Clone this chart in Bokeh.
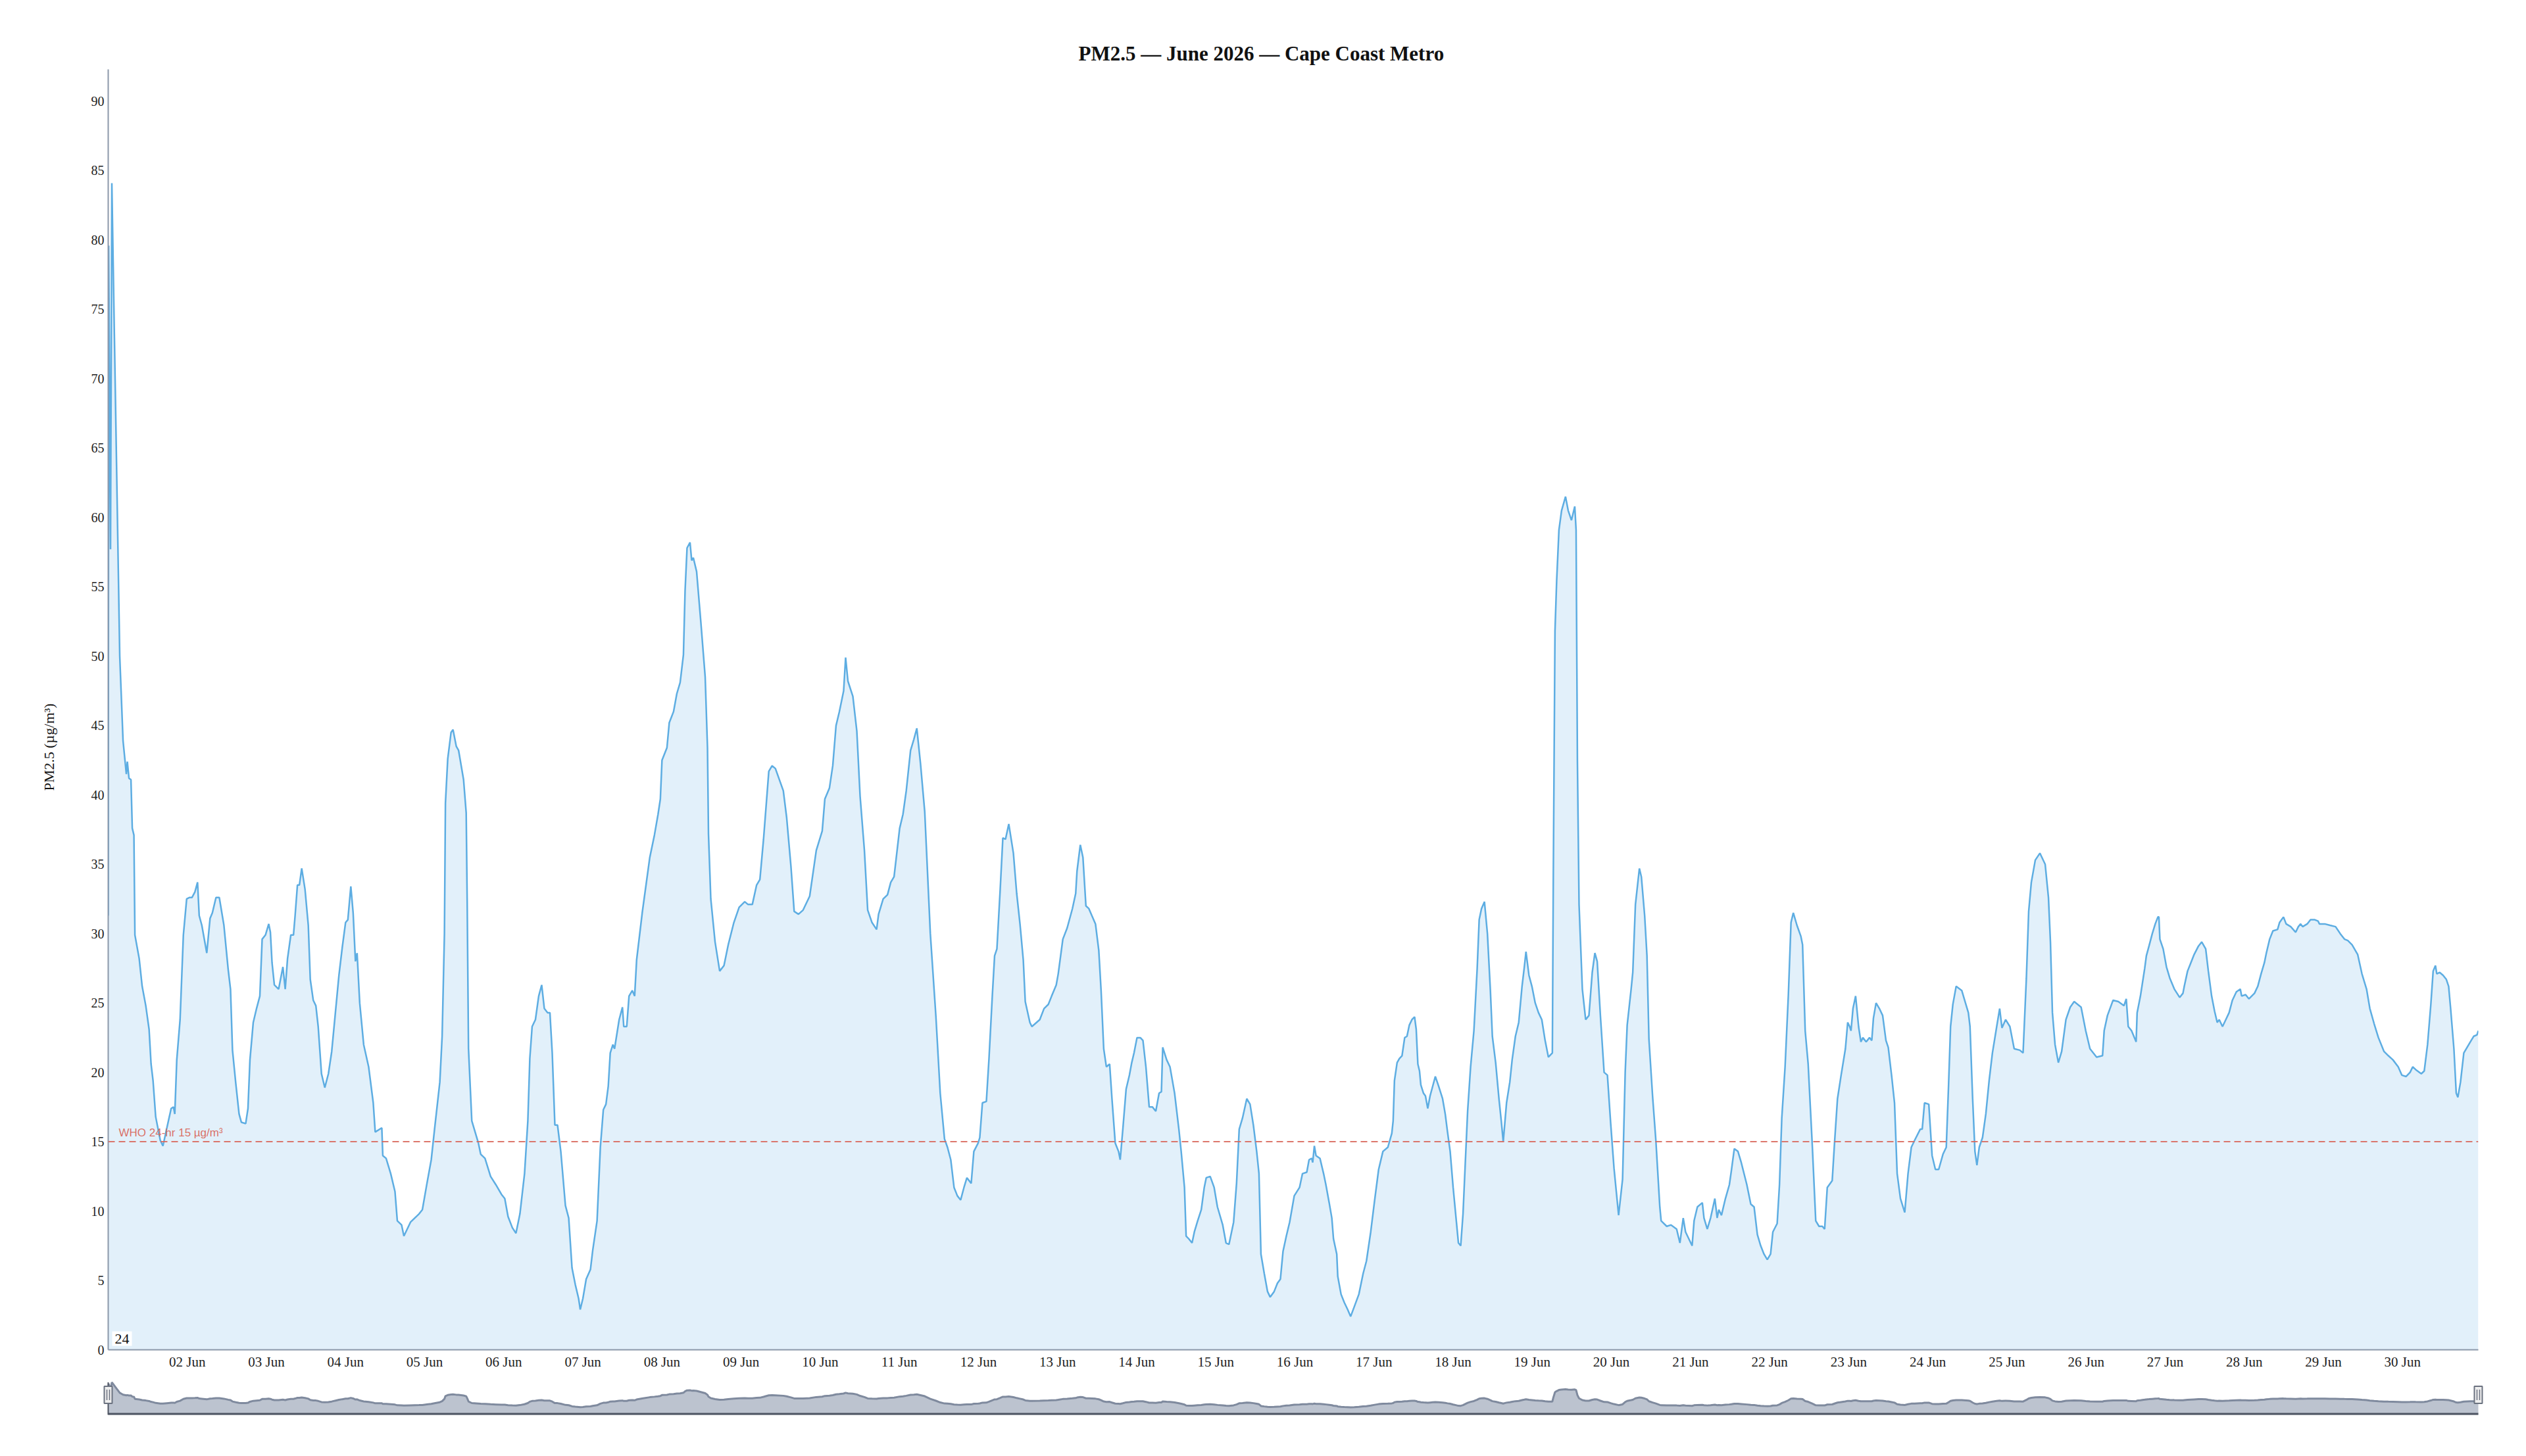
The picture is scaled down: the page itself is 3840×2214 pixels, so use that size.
import numpy as np
from datetime import datetime, timezone
from bokeh.plotting import figure
from bokeh.models import Range1d, FixedTicker, DatetimeTickFormatter, Span, Label, Title
from bokeh.layouts import column
from bokeh.embed import file_html
from bokeh.resources import INLINE

TITLE = "PM2.5 \u2014 June 2026 \u2014 Cape Coast Metro"
Y_LABEL = "PM2.5 (\u00b5g/m\u00b3)"
WHO_LEVEL = 15
WHO_TEXT = "WHO 24-hr 15 \u00b5g/m\u00b3"
CORNER_TEXT = "24"
Y_TICKS = list(range(0, 95, 5))
TICK_DAYS = list(range(2, 31))
LAST_HOUR = 719

# hours since 2026-06-01 00:00 and PM2.5 readings
hours = [
    0.0, 0.15, 0.7, 1.1, 3.5, 4.5, 5.5, 5.8, 6.3, 6.9, 7.3, 7.8, 8.1, 9.4, 10.3, 11.4, 12.4, 13.0,
    13.6, 14.4, 15.8, 16.6, 17.8, 19.1, 19.8, 20.2, 20.8, 21.8, 22.8, 23.8,
    24.6, 25.4, 26.3, 27.1, 27.6, 28.4, 29.9, 30.9, 31.6, 32.7, 33.7, 35.1, 36.4, 37.1, 37.7,
    38.7, 39.7, 40.4, 41.7, 42.4, 43.0, 44.0, 45.0, 46.0, 46.7, 47.7,
    48.7, 49.2, 49.7, 50.4, 51.7, 53.0, 53.7, 54.4, 55.4, 56.2, 56.7, 57.4, 58.0, 58.7, 59.7,
    60.7, 61.3, 62.2, 63.0, 63.7, 64.7, 65.7, 66.8, 67.8, 69.0, 70.0, 71.0,
    72.0, 72.7, 73.6, 74.3, 75.0, 75.5, 76.3, 77.5, 79.0, 80.4, 81.0, 83.0, 83.3, 84.3, 85.7,
    87.0, 87.7, 89.0, 89.7, 91.7, 94.3, 95.3,
    96.7, 98.0, 99.0, 100.6, 101.3, 102.0, 102.3, 103.0, 104.0, 104.6, 105.6, 106.3, 107.8,
    108.6, 108.9, 109.3, 110.3, 112.3, 113.0, 114.3, 116.0, 117.6, 119.3,
    120.3, 121.3, 122.6, 123.7, 124.9, 126.3, 127.3, 127.9, 128.6, 129.6, 130.6, 131.5, 132.3,
    133.3, 134.0, 134.7, 135.5, 136.3, 137.3, 138.7, 139.7, 140.7, 141.7, 142.7, 143.2,
    144.0, 145.0, 146.3, 147.0, 148.3, 149.3, 150.2, 151.0, 151.7, 152.3, 153.1, 153.6, 155.0,
    156.0, 156.4, 157.3, 158.0, 159.0, 159.7, 160.3, 162.0, 164.3, 165.7,
    166.8, 167.5, 168.0, 169.5, 170.2, 171.5, 172.5, 173.5, 174.5, 175.0, 175.6, 176.5, 177.0,
    177.5, 178.5, 179.8, 181.1, 181.8, 182.1, 182.8, 184.1, 185.5, 186.8, 188.1, 189.8, 191.4,
    193.1, 194.1, 195.4, 196.7, 197.7, 198.8, 200.4, 201.4, 202.4, 204.8, 205.8, 207.1, 208.1,
    209.4, 210.8, 212.8, 214.8, 216.6, 217.4, 218.8, 219.8, 220.8, 221.8, 223.1, 223.7, 224.4,
    225.9, 227.1, 228.1, 229.4, 230.4, 231.7, 233.1, 233.7, 235.1, 236.4, 237.4, 238.4, 240.1,
    241.1, 242.1, 243.4, 244.4, 245.3, 246.4, 247.7, 249.4, 251.1, 252.4, 253.7,
    254.6, 255.6, 256.6, 257.6, 258.6, 259.6, 260.5, 261.8, 262.6, 263.9, 264.4, 265.2, 266.4,
    267.2, 268.2, 268.9, 269.6, 270.6, 271.4, 272.2, 273.2, 274.6, 275.6, 276.6, 277.6, 278.2,
    279.6, 280.2, 282.6, 283.9, 285.2, 286.2, 287.6, 288.2, 289.6, 290.9, 292.5, 293.5, 293.9,
    294.9, 295.7, 296.6, 297.5, 298.4, 299.5, 300.5, 301.2, 302.0, 302.8, 303.8, 304.5, 305.5,
    306.5, 307.0, 307.8, 308.8, 309.8, 310.5, 311.2, 312.1, 313.1, 313.9, 314.8, 315.8, 316.8,
    317.8, 318.8, 319.5, 319.9, 321.1, 322.1, 323.5, 324.8, 325.5, 326.5, 327.0, 327.8, 328.8,
    329.5, 330.5, 331.6, 332.5, 333.1, 334.3, 335.5, 336.5, 338.1, 339.1, 340.0, 341.4, 342.3,
    343.1, 344.1, 345.4,
    346.4, 347.4, 348.4, 349.1, 349.7, 350.7, 351.7, 352.5, 353.7, 354.7, 355.6, 356.4, 357.4,
    358.4, 359.8, 361.4, 362.3, 363.6, 364.3, 365.1, 365.4, 365.9, 366.4, 367.6, 368.7, 369.4,
    370.4, 371.2, 371.7, 372.7, 373.0, 374.0, 375.0, 376.0, 376.9, 378.0, 379.4, 380.7, 381.7,
    383.0, 384.2, 385.4, 386.7, 388.2, 389.4, 389.8, 390.2, 391.0, 391.7, 392.5, 393.3, 394.0,
    394.7, 395.5, 396.3, 396.8, 397.3, 397.8, 398.2, 399.0, 399.6, 400.3, 401.0, 401.8, 402.6,
    403.6, 404.8, 405.6, 406.3, 407.1, 408.0, 409.0, 409.6, 410.3, 411.0, 411.6, 412.4, 413.3,
    414.3, 415.3, 415.9, 416.6, 417.5, 418.4, 419.3, 419.9, 420.9, 421.9, 422.6, 423.2, 424.2,
    425.2, 425.9, 426.9, 427.9, 428.9, 429.6, 430.1, 431.0, 431.9, 432.9, 433.9, 434.9, 435.9,
    436.9, 438.1,
    438.4, 438.9, 439.4, 440.1, 440.9, 442.1, 442.9, 443.9, 444.9, 445.3, 445.7, 446.2, 447.2,
    448.2, 449.2, 450.2, 451.0, 451.7, 452.7, 453.8, 454.8, 455.8, 456.8, 458.2, 459.4, 460.2,
    460.8, 462.0, 462.5, 463.3, 464.5, 465.1, 466.1, 466.8, 467.4, 468.5, 469.5, 470.7, 471.1,
    472.8, 474.1, 475.8, 476.8, 477.8, 478.5, 480.5, 481.1, 482.1, 483.6, 484.1, 485.1, 486.1,
    487.4, 488.1, 488.6, 489.4, 490.6, 491.8, 492.4, 493.3, 494.4, 495.4, 497.1, 498.3, 499.3,
    500.3, 501.3, 502.3, 503.3, 504.3, 505.0, 506.3, 507.0, 507.7, 508.7, 509.7, 510.5, 511.2,
    512.3, 513.5, 514.0, 514.8, 515.7, 517.0, 518.0, 519.0, 520.0, 520.7, 521.5, 523.0, 523.7,
    524.6, 525.7,
    527.0, 527.7, 528.3, 528.7, 529.3, 530.1, 531.0, 531.7, 532.3, 533.3, 534.3, 535.0, 535.5,
    536.3, 537.3, 538.3, 539.3, 540.0, 541.0, 541.9, 542.7, 543.7, 545.0, 546.0, 547.0, 548.0,
    549.7, 550.3, 551.0, 552.3, 553.3, 554.3, 555.3, 556.6, 557.6, 558.3, 558.9, 559.6, 560.6,
    562.3, 564.3, 564.8, 565.6, 566.3, 566.9, 567.6, 568.6, 569.6, 570.6, 571.6, 572.9, 573.8,
    574.5, 575.6, 576.9, 578.2, 579.9, 580.9, 581.9, 582.6, 583.4, 584.6, 586.0, 587.6, 588.6,
    589.2, 589.8, 590.6, 591.6, 592.6, 593.9, 595.2, 596.4, 598.5, 599.9, 601.2, 603.2, 605.0,
    605.5, 606.5, 608.2, 609.8, 611.5, 612.2, 612.8, 613.8, 615.2, 615.5, 616.5,
    617.8, 618.3, 619.1, 620.1, 621.0, 621.8, 622.1, 622.4, 623.4, 624.4, 625.4, 626.8, 628.4,
    629.4, 629.8, 630.8, 631.8, 632.8, 634.1, 635.1, 636.3, 637.1, 638.1, 639.0, 639.8, 640.4,
    641.4, 642.4, 643.4, 644.4, 645.6, 646.8, 647.2, 648.4, 649.4, 651.1, 652.1, 653.1, 654.1,
    654.7, 655.7, 656.7, 658.1, 658.7, 659.9, 660.7, 662.1, 663.6, 664.4, 665.1, 665.7, 667.1,
    668.1, 669.4, 670.4, 670.8, 672.4, 674.0, 675.7, 677.1, 678.4, 679.4, 680.7, 682.4, 683.7,
    685.1, 686.1, 687.4, 688.7, 690.4, 691.7, 693.1, 694.7, 695.8, 697.1, 698.3, 699.1, 700.0,
    701.7, 702.6, 703.6, 704.6, 705.3, 706.0, 706.4, 707.3, 708.3, 709.3, 710.0, 710.6, 711.6,
    712.3, 712.8, 713.6, 714.6, 715.6, 716.6, 717.6, 718.6, 719.0,
]
pm25 = [
    31.3, 79.6, 57.7, 84.1, 50.0, 43.9, 41.5, 42.4, 41.2, 41.1, 37.6, 37.1, 29.9, 28.2, 26.2, 24.8, 23.1, 20.6,
    19.4, 16.8, 15.1, 14.7, 16.0, 17.4, 17.5, 17.0, 20.9, 23.8, 29.9, 32.5,
    32.6, 32.6, 33.0, 33.7, 31.3, 30.6, 28.6, 31.1, 31.5, 32.6, 32.6, 30.6, 27.4, 26.0, 21.6,
    19.2, 17.0, 16.4, 16.3, 17.4, 20.9, 23.6, 24.6, 25.5, 29.6, 29.9,
    30.7, 30.1, 27.9, 26.3, 26.0, 27.6, 26.0, 28.2, 29.9, 29.9, 31.3, 33.5, 33.5, 34.7, 33.2,
    30.6, 26.7, 25.2, 24.8, 23.3, 19.9, 18.9, 19.9, 21.5, 24.5, 27.0, 29.0,
    30.8, 31.0, 33.4, 31.5, 28.0, 28.6, 25.0, 22.0, 20.4, 17.8, 15.7, 16.0, 14.0, 13.8, 12.7,
    11.4, 9.3, 9.0, 8.2, 9.2, 9.8, 10.1,
    12.0, 13.7, 15.9, 19.3, 22.6, 30.0, 39.4, 42.6, 44.5, 44.7, 43.5, 43.2, 41.1,
    38.7, 32.3, 21.7, 16.5, 14.9, 14.1, 13.8, 12.5, 11.9, 11.2,
    10.9, 9.6, 8.8, 8.4, 9.8, 12.7, 16.5, 21.0, 23.3, 23.8, 25.5, 26.3, 24.6,
    24.3, 24.3, 21.4, 16.2, 16.2, 14.3, 10.4, 9.5, 5.9, 4.7, 3.7, 2.9,
    3.7, 5.1, 5.8, 7.2, 9.3, 14.6, 17.3, 17.7, 19.0, 21.4, 22.0, 21.7, 23.8,
    24.7, 23.3, 23.3, 25.5, 25.9, 25.5, 28.1, 31.5, 35.5, 37.1,
    38.6, 39.7, 42.5, 43.4, 45.2, 46.0, 47.3, 48.1, 50.1, 54.7, 57.8, 58.2, 56.9,
    57.1, 56.1, 52.4, 48.5, 43.4, 37.2, 32.5, 29.4, 27.3, 27.7, 29.2, 30.8, 31.9,
    32.3, 32.1, 32.1, 33.5, 33.9, 36.8, 41.7, 42.1, 41.9, 40.3, 38.4, 34.9, 31.6,
    31.4, 31.7, 32.7, 36.0, 37.4, 39.7, 40.5, 42.1, 45.0, 46.0, 47.5, 49.9, 48.2,
    47.1, 44.6, 39.9, 36.0, 31.7, 30.8, 30.3, 31.4, 32.5, 32.8, 33.7, 34.1, 37.6,
    38.6, 40.3, 43.2, 44.0, 44.8, 42.3, 38.8, 30.0, 24.0, 18.5, 15.2,
    14.6, 13.7, 11.7, 11.1, 10.8, 11.7, 12.4, 12.0, 14.3, 14.9, 15.3, 17.8, 17.9,
    21.0, 25.5, 28.4, 28.9, 33.2, 36.9, 36.8, 37.9, 35.8, 32.9, 30.7, 28.1, 25.1,
    23.6, 23.3, 23.8, 24.6, 24.9, 25.5, 26.3, 27.1, 29.6, 30.4, 31.8, 32.9, 34.5,
    36.4, 35.5, 32.0, 31.8, 31.3, 30.7, 28.8, 25.9, 21.7, 20.4, 20.6, 18.1, 14.9,
    14.3, 13.7, 15.9, 18.8, 19.8, 20.7, 21.4, 22.5, 22.5, 22.3, 20.4, 17.5, 17.5,
    17.2, 18.5, 18.6, 21.8, 20.9, 20.4, 18.5, 15.9, 14.3, 11.7, 8.2, 8.0, 7.7,
    8.5, 9.3, 10.1, 11.7, 12.4, 12.5, 11.7, 10.3, 9.0, 7.7, 7.6, 9.2, 12.0,
    15.9, 16.7, 18.1,
    17.7, 16.2, 14.3, 12.7, 6.9, 5.5, 4.2, 3.8, 4.2, 4.8, 5.1, 7.1, 8.2,
    9.2, 11.1, 11.7, 12.7, 12.8, 13.7, 13.8, 13.5, 14.7, 14.0, 13.8, 12.7, 11.9,
    10.6, 9.5, 8.0, 6.9, 5.3, 4.0, 3.4, 2.9, 2.4, 3.1, 4.0, 5.5, 6.4,
    8.5, 10.8, 13.0, 14.3, 14.6, 15.6, 16.5, 19.4, 20.7, 21.0, 21.2, 22.5, 22.6,
    23.4, 23.8, 24.0, 23.1, 20.6, 20.1, 19.1, 18.5, 18.3, 17.4, 18.3, 19.0, 19.7,
    19.0, 18.1, 17.0, 15.7, 14.3, 11.7, 9.2, 7.7, 7.5, 9.8, 13.0, 17.2, 20.4,
    23.0, 27.5, 31.0, 31.8, 32.3, 30.0, 25.9, 22.6, 20.7, 18.1, 16.5, 15.0, 17.8,
    19.3, 20.9, 22.6, 23.6, 26.2, 27.6, 28.7, 27.0, 26.2, 25.0, 24.3, 23.8, 22.3,
    21.1, 21.4,
    34.5, 51.8, 55.4, 59.1, 60.5, 61.5, 60.5, 59.8, 60.8, 59.1, 42.5, 32.1, 26.0,
    23.8, 24.1, 27.2, 28.6, 28.0, 24.0, 20.0, 19.8, 16.3, 13.1, 9.7, 12.3, 20.0,
    23.4, 26.0, 27.2, 32.1, 34.7, 34.1, 31.3, 28.4, 22.4, 18.3, 15.1, 10.3, 9.3,
    8.9, 9.0, 8.7, 7.7, 9.5, 8.5, 7.5, 9.3, 10.3, 10.6, 9.5, 8.7, 9.5,
    10.9, 9.5, 10.1, 9.7, 10.9, 11.9, 12.9, 14.5, 14.3, 13.5, 11.9, 10.5, 10.3,
    8.3, 7.5, 6.9, 6.5, 6.9, 8.5, 9.1, 11.9, 16.7, 20.4, 25.6, 30.8, 31.5,
    30.6, 29.8, 29.2, 23.0, 20.6, 14.5, 9.3, 8.9, 8.9, 8.7, 11.7, 12.2, 14.9,
    18.1, 19.8,
    21.7, 23.6, 23.3, 23.0, 24.6, 25.5, 23.3, 22.2, 22.5, 22.2, 22.5, 22.3, 23.9,
    25.0, 24.6, 24.1, 22.3, 21.8, 19.8, 17.8, 12.7, 10.9, 9.9, 12.7, 14.6, 15.1,
    15.9, 15.9, 17.8, 17.7, 14.0, 13.0, 13.0, 14.1, 14.6, 19.1, 23.3, 24.9, 26.2,
    25.9, 24.3, 23.3, 18.1, 14.3, 13.3, 14.6, 15.3, 17.0, 19.4, 21.4, 23.3, 24.6,
    23.2, 23.8, 23.3, 21.7, 21.6, 21.4, 26.8, 31.6, 33.7, 35.3, 35.8, 35.0, 32.6,
    29.4, 24.3, 22.0, 20.7, 21.5, 23.8, 24.7, 25.1, 24.7, 23.0, 21.7, 21.1, 21.2,
    23.0, 24.1, 25.2, 25.1, 24.8, 25.3, 23.3, 23.0, 22.2, 24.3, 25.5,
    27.5, 28.4, 29.1, 30.0, 30.7, 31.2, 31.2, 29.6, 28.9, 27.6, 26.8, 26.0, 25.4,
    25.7, 26.2, 27.3, 27.9, 28.5, 29.1, 29.4, 28.9, 27.3, 25.5, 24.4, 23.6, 23.8,
    23.3, 23.8, 24.3, 25.2, 25.8, 26.0, 25.5, 25.6, 25.3, 25.7, 26.2, 27.1, 27.9,
    28.6, 29.6, 30.2, 30.3, 30.8, 31.2, 30.7, 30.5, 30.1, 30.5, 30.7, 30.5, 30.7,
    31.0, 31.0, 30.9, 30.7, 30.7, 30.6, 30.5, 30.0, 29.6, 29.5, 29.2, 28.5, 27.1,
    26.0, 24.6, 23.5, 22.5, 21.5, 21.2, 20.9, 20.4, 19.8, 19.7, 20.0, 20.4, 20.2,
    19.9, 20.1, 22.0, 24.9, 27.3, 27.7, 27.1, 27.2, 27.0, 26.7, 26.2, 24.6, 21.7,
    18.5, 18.2, 19.3, 21.4, 21.8, 22.2, 22.6, 22.7, 23.0,
]

HOUR_MS = 3600 * 1000
base_ms = datetime(2026, 6, 1, tzinfo=timezone.utc).timestamp() * 1000
x = base_ms + np.array(hours) * HOUR_MS
y = np.array(pm25)
x_start = base_ms
x_end = base_ms + LAST_HOUR * HOUR_MS

LINE_COLOR = "#5DADE2"
AXIS_COLOR = "#8c98aa"
WHO_COLOR = "#d9685c"
SERIF = "Liberation Serif"

W = 3824
FRAME_W = 3603
Y_TOP = 92.3
p = figure(width=W, height=2090, x_axis_type="datetime",
           x_range=Range1d(x_start, x_end), y_range=Range1d(0, Y_TOP),
           output_backend="svg", toolbar_location=None,
           min_border_left=164, min_border_right=57, min_border_top=105, min_border_bottom=38)
p.frame_align = False
p.outline_line_color = None
p.xgrid.visible = False
p.ygrid.visible = False
p.background_fill_color = "white"
p.border_fill_color = "white"

p.title.text = TITLE
p.title.text_font = SERIF
p.title.text_font_size = "31px"
p.title.text_font_style = "bold"
p.title.text_color = "#111111"
p.title.align = "left"
p.title.offset = 1475
p.title.standoff = 14

p.varea(x=x, y1=0, y2=y, fill_color=LINE_COLOR, fill_alpha=0.18)
p.line(x=x, y=y, line_color=LINE_COLOR, line_width=2.5)

p.add_layout(Span(location=WHO_LEVEL, dimension="width", line_color=WHO_COLOR,
                  line_alpha=0.9, line_dash="10 6", line_width=2))
p.add_layout(Label(x=x_start, y=WHO_LEVEL, x_offset=16, y_offset=4, text=WHO_TEXT,
                   text_font="Liberation Sans", text_font_size="17px",
                   text_color=WHO_COLOR, text_alpha=0.95))
p.add_layout(Label(x=x_start, y=0, x_offset=6, y_offset=6, text=CORNER_TEXT,
                   text_font=SERIF, text_font_size="22px", text_color="#111111",
                   background_fill_color="white", padding=4))

day_ticks = [base_ms + (d - 1) * 24 * HOUR_MS for d in TICK_DAYS]
p.xaxis.ticker = FixedTicker(ticks=day_ticks)
fmt = "%d %b"
p.xaxis.formatter = DatetimeTickFormatter(days=fmt, months=fmt, hours=fmt, hourmin=fmt,
                                          minutes=fmt, years=fmt)
p.yaxis.ticker = FixedTicker(ticks=Y_TICKS)

for ax in (p.xaxis[0], p.yaxis[0]):
    ax.axis_line_color = AXIS_COLOR
    ax.axis_line_width = 2
    ax.major_tick_line_color = None
    ax.minor_tick_line_color = None
    ax.major_tick_out = 0
    ax.major_tick_in = 0
    ax.minor_tick_out = 0
    ax.major_label_text_font = SERIF
    ax.major_label_text_color = "#222222"

p.yaxis.major_label_text_font_size = "20px"
p.xaxis.major_label_text_font_size = "21px"
p.yaxis.major_label_standoff = 6
p.xaxis.major_label_standoff = 6

# y-axis title as a side title so it can sit slightly below the frame centre
ytitle = Title(text=Y_LABEL, align="left", offset=850, vertical_align="bottom", standoff=98,
               text_font=SERIF, text_font_size="22px", text_font_style="normal",
               text_color="#111111")
p.add_layout(ytitle, "left")

# navigator (data shadow)
px_per_ms = FRAME_W / (x_end - x_start)
pad_ms = 8 / px_per_ms
mn, mx = float(y.min()), float(y.max())
off = 0.3 * (mx - mn)
ylo, yhi = mn - off, mx + off

nav = figure(width=W, height=71, x_range=Range1d(x_start - pad_ms, x_end + pad_ms),
             y_range=Range1d(ylo, yhi), output_backend="svg", toolbar_location=None,
             min_border_left=156, min_border_right=49, min_border_top=0, min_border_bottom=10,
             x_axis_location=None, y_axis_location=None)
nav.frame_align = False
nav.outline_line_color = None
nav.xgrid.visible = False
nav.ygrid.visible = False
nav.varea(x=x, y1=ylo, y2=y, fill_color="#bcc3cf", fill_alpha=1.0)
nav.line(x=x, y=y, line_color="#7f8a9e", line_width=3)
nav.segment(x0=[x_start], y0=[ylo], x1=[x_end], y1=[ylo], line_color="#4e5563", line_width=6)
nav.segment(x0=[x_start], y0=[ylo], x1=[x_start], y1=[mx], line_color="#4e5563", line_width=2)
ymid = (ylo + yhi) / 2
nav.rect(x=[x_start, x_end], y=[ymid, ymid], width=12, height=26,
         width_units="screen", height_units="screen",
         fill_color="#eeeeee", line_color="#6b7280", line_width=2)
dx = 2 / px_per_ms
hh = (yhi - ylo) / 61 * 8
nav.segment(x0=[x_start - dx, x_start + dx, x_end - dx, x_end + dx],
            y0=[ymid - hh] * 4,
            x1=[x_start - dx, x_start + dx, x_end - dx, x_end + dx],
            y1=[ymid + hh] * 4, line_color="#6b7280", line_width=1.5)

layout = column(p, nav)
open("out.html", "w").write(file_html(layout, INLINE))
